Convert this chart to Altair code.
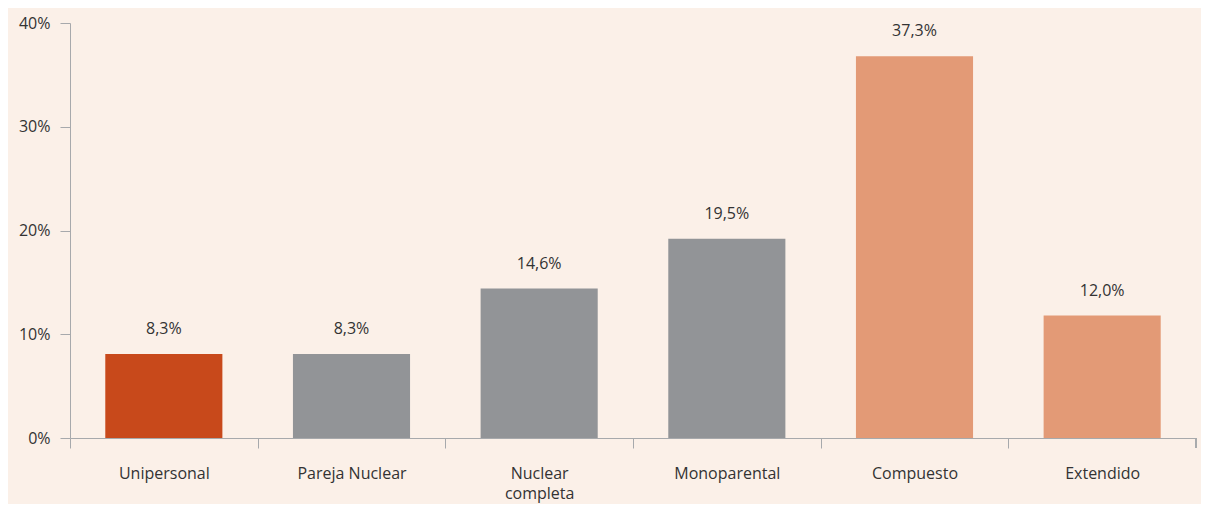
import altair as alt
import pandas as pd

categories = ["Unipersonal", "Pareja Nuclear", "Nuclear completa", "Monoparental", "Compuesto", "Extendido"]
values = [8.1, 8.1, 14.4, 19.2, 36.8, 11.8]
labels = ["8,3%", "8,3%", "14,6%", "19,5%", "37,3%", "12,0%"]
groups = ["a", "b", "b", "b", "c", "c"]

df = pd.DataFrame({"cat": categories, "val": values, "lab": labels, "grp": groups})

FONT = "Open Sans"
W, H = 1126, 415
AX = "#A7A9AC"
TXT = "#333333"

x = alt.X("cat:N", sort=categories, title=None,
          scale=alt.Scale(paddingInner=0.376, paddingOuter=0.188),
          axis=alt.Axis(tickOffset=-W / 12, labelOffset=W / 12, labelAngle=0,
                        tickSize=10, tickColor=AX, domainColor=AX,
                        labelPadding=17, labelFont=FONT, labelFontSize=16,
                        labelColor=TXT, labelLineHeight=20,
                        labelExpr="datum.value == 'Nuclear completa' ? ['Nuclear', 'completa'] : datum.label"))

bars = alt.Chart(df).mark_bar().encode(
    x=x,
    y=alt.Y("val:Q", title=None,
            scale=alt.Scale(domain=[0, 40]),
            axis=alt.Axis(values=[0, 10, 20, 30, 40], labelExpr="datum.value + '%'",
                          grid=False, tickSize=10, tickColor=AX, domainColor=AX,
                          labelPadding=10, labelFont=FONT, labelFontSize=16, labelColor=TXT)),
    color=alt.Color("grp:N", legend=None,
                    scale=alt.Scale(domain=["a", "b", "c"], range=["#C8491B", "#929497", "#E39A76"])),
)

text = alt.Chart(df).mark_text(baseline="middle", dy=-25, font=FONT, fontSize=16, color=TXT).encode(
    x=alt.X("cat:N", sort=categories),
    y="val:Q",
    text="lab:N",
)

endtick = alt.Chart(df).mark_rule(color=AX).encode(
    x=alt.value(W), y=alt.value(H), y2=alt.value(H + 10)
)

chart = alt.layer(bars, text, endtick).properties(
    width=W, height=H,
    background="#FBF0E8",
    padding={"left": 62, "top": 15, "right": 5, "bottom": 66},
    autosize=alt.AutoSizeParams(type="none"),
).configure_view(stroke=None)

chart.save("out.html", embed_options={"renderer": "svg", "actions": False})
